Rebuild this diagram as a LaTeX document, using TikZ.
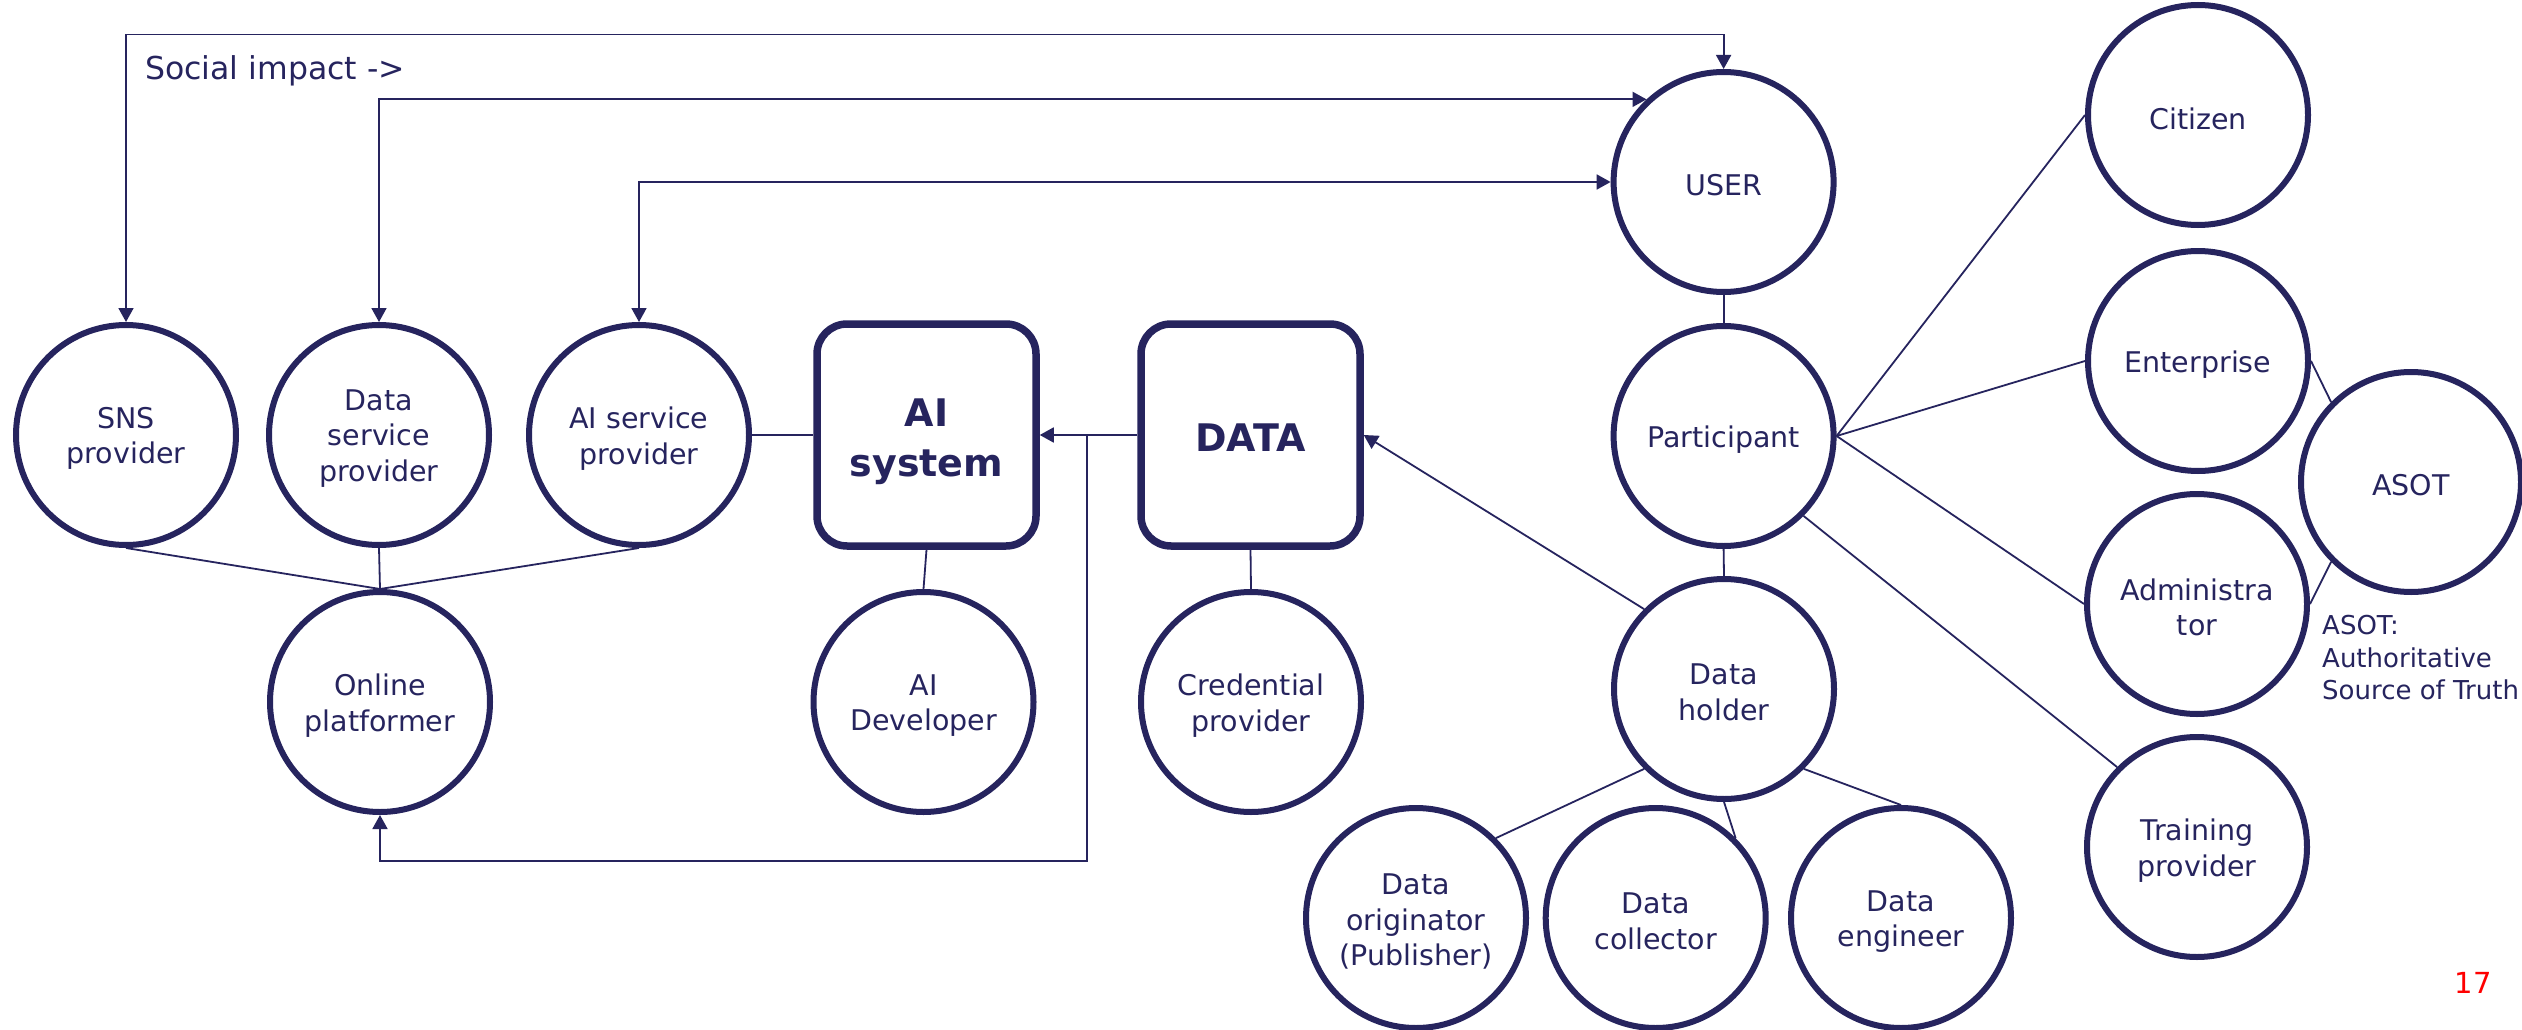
\documentclass[tikz,border=0pt]{standalone}
\usepackage{fontspec}
\setmainfont{DejaVu Sans}
\usetikzlibrary{arrows.meta}
\definecolor{navy}{RGB}{38,36,94}
\begin{document}
\begin{tikzpicture}[x=1pt,y=-1pt,
  actor/.style={circle, draw=navy, line width=6pt, minimum size=220pt, inner sep=0pt},
  lbl/.style={inner sep=0pt, align=center, text=navy, yshift=-3.5pt, font=\fontsize{28.5}{35.5}\selectfont},
  sysbox/.style={rectangle, rounded corners=30pt, draw=navy, line width=7.5pt, minimum width=219pt, minimum height=222pt, inner sep=0pt},
  syslbl/.style={inner sep=0pt, align=center, text=navy, font=\bfseries\fontsize{38}{50}\selectfont},
  link/.style={draw=navy, line width=1.8pt},
  arr/.style={link, -{Triangle[length=14pt,width=15pt]}},
  barr/.style={link, {Triangle[length=14pt,width=15pt]}-{Triangle[length=14pt,width=15pt]}},
  note/.style={text=navy, inner sep=0pt, align=left},
]
\useasboundingbox (0,0) rectangle (2522,1030);
\fill[white] (0,0) rectangle (2522,1030);

% left group
\node[actor] (sns)  at (126,435)  {};
\node[actor] (dsp)  at (379,435)  {};
\node[actor] (aisp) at (639,435)  {};
\node[sysbox] (ais) at (926.5,435) {};
\node[sysbox] (data) at (1250.5,435) {};
\node[actor] (op)   at (380,702)  {};
\node[actor] (aid)  at (923.5,702) {};
\node[actor] (cred) at (1251,702) {};

% right group
\node[actor] (user) at (1723.6,182) {};
\node[actor] (part) at (1723.6,436) {};
\node[actor] (dh)   at (1724,689) {};
\node[actor] (orig) at (1416,918) {};
\node[actor] (coll) at (1655.7,918) {};
\node[actor] (eng)  at (1901,918) {};
\node[actor] (cit)  at (2198,115) {};
\node[actor] (ent)  at (2198,361) {};
\node[actor] (adm)  at (2197,604) {};
\node[actor] (train) at (2197,847) {};
\node[actor] (asot) at (2411,482) {};

% labels
\node[lbl] (sns-t)  at (sns)  {SNS\\provider};
\node[lbl] (dsp-t)  at (dsp)  {Data\\service\\provider};
\node[lbl] (aisp-t) at (aisp) {AI service\\provider};
\node[syslbl, yshift=-7pt] (ais-t) at (ais) {AI\\system};
\node[syslbl, yshift=-3pt] (data-t) at (data) {DATA};
\node[lbl] (op-t)   at (op)   {Online\\platformer};
\node[lbl] (aid-t)  at (aid)  {AI\\Developer};
\node[lbl] (cred-t) at (cred) {Credential\\provider};
\node[lbl] (user-t) at (user) {USER};
\node[lbl] (part-t) at (part) {Participant};
\node[lbl] (dh-t)   at (dh)   {Data\\holder};
\node[lbl] (orig-t) at (orig) {Data\\originator\\(Publisher)};
\node[lbl] (coll-t) at (coll) {Data\\collector};
\node[lbl] (eng-t)  at (eng)  {Data\\engineer};
\node[lbl] (cit-t)  at (cit)  {Citizen};
\node[lbl] (ent-t)  at (ent)  {Enterprise};
\node[lbl] (adm-t)  at (adm)  {Administra\\tor};
\node[lbl] (train-t) at (train) {Training\\provider};
\node[lbl] (asot-t) at (asot) {ASOT};

% texts
\node[note, anchor=base west, font=\fontsize{31.5}{36}\selectfont] (social) at (145,80) {Social impact ->};
\node[note, anchor=north west, font=\fontsize{26}{32.5}\selectfont] (asotnote) at (2322,615) {ASOT:\\Authoritative\\Source of Truth};
\node[inner sep=0pt, anchor=base, text=red, font=\fontsize{29}{32}\selectfont] (pagenum) at (2473,993) {17};

% top feedback arrows
\coordinate (t1) at (1723.6,34.6);
\draw[barr] (sns.north) |- (t1) -- (user.north);
\draw[barr] (dsp.north) |- (user.133.6);
\draw[barr] (aisp.north) |- (user.west);

% middle connections
\draw[link] (aisp.east) -- (ais.west);
\draw[arr] (data.west) -- (ais.east);
\coordinate (br) at (1087,435);
\coordinate (bl) at (1087,861);
\draw[arr] (br) -- (bl) -| (op.south);
\draw[link] (sns.south) -- (op.north);
\draw[link] (dsp.south) -- (op.north);
\draw[link] (aisp.south) -- (op.north);
\draw[link] (ais.south) -- (aid.north);
\draw[link] (data.south) -- (cred.north);

% right connections
\draw[link] (user.south) -- (part.north);
\draw[link] (part.south) -- (dh.north);
\draw[arr] (dh.135) -- (data.east);
\draw[link] (part.east) -- (cit.west);
\draw[link] (part.east) -- (ent.west);
\draw[link] (part.east) -- (adm.west);
\draw[link] (part.-45) -- (train.135);
\draw[link] (ent.east) -- (asot.135);
\draw[link] (adm.east) -- (asot.225);
\draw[link] (dh.225) -- (orig.45);
\draw[link] (dh.south) -- (coll.45);
\draw[link] (dh.-45) -- (eng.north);
\end{tikzpicture}
\end{document}
